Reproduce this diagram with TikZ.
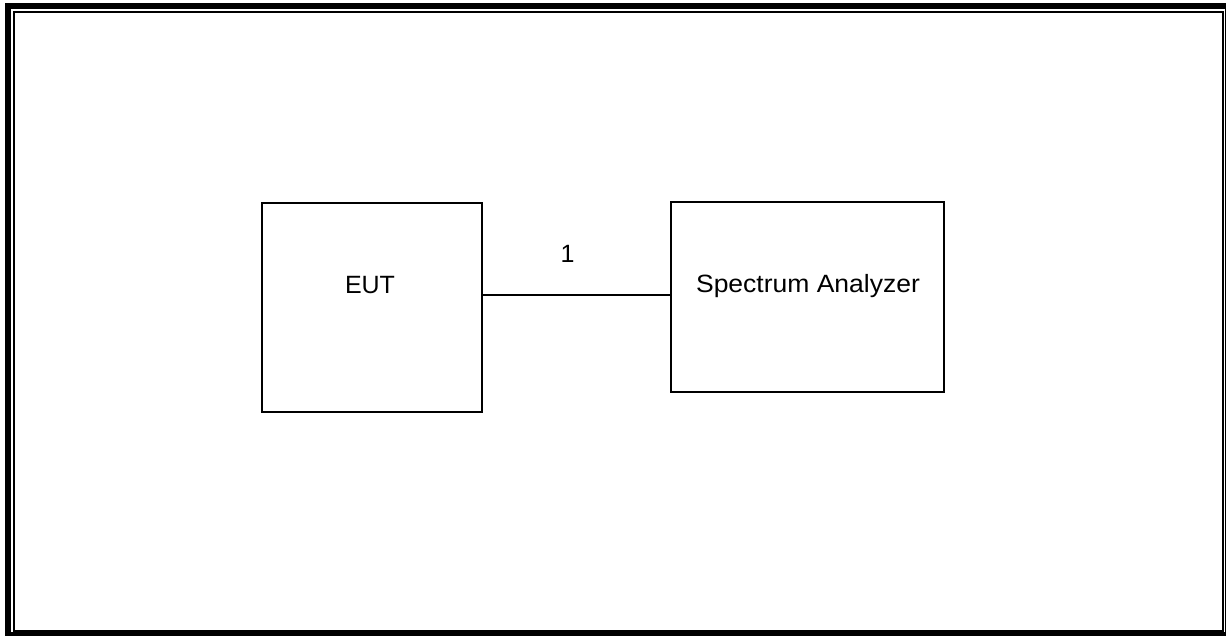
\documentclass[tikz,border=0pt]{standalone}
\usepackage{fontspec}
\setmainfont{Liberation Sans}
\usepackage{tikz}
\usetikzlibrary{calc,positioning}

\begin{document}
\begin{tikzpicture}[x=1pt, y=-1pt,
    unitbox/.style={draw, line width=1.2pt, minimum width=220pt, minimum height=209pt, inner sep=0pt},
    boxtext/.style={anchor=base, inner sep=0pt, font=\fontsize{25}{30}\selectfont}]
  
  % Page size
  \useasboundingbox (0,0) rectangle (1226,636);
  
  % Double frame
  \draw[line width=6pt] (8,6) rectangle (1228,635);
  \draw[line width=2pt] (14,12) rectangle (1223,630.5);
  
  % Equipment under test
  \node[unitbox] (eut) at (372,307.5) {};
  \node[boxtext] (euttext) at (370,293.3) {EUT};
  
  % Spectrum analyzer
  \node[unitbox, minimum width=273pt, minimum height=190pt] (sa) at (807.5,297) {};
  \node[boxtext] (satext) at (808,292.3) {\scalebox{1.06}[1]{Spectrum Analyzer}};
  
  % Cable 1
  \coordinate (cable) at (0,295);
  \draw[line width=1.2pt] (eut.east |- cable) -- (sa.west |- cable);
  \node[boxtext] (cabletext) at (567.5,262.3) {1};
  
\end{tikzpicture}
\end{document}
